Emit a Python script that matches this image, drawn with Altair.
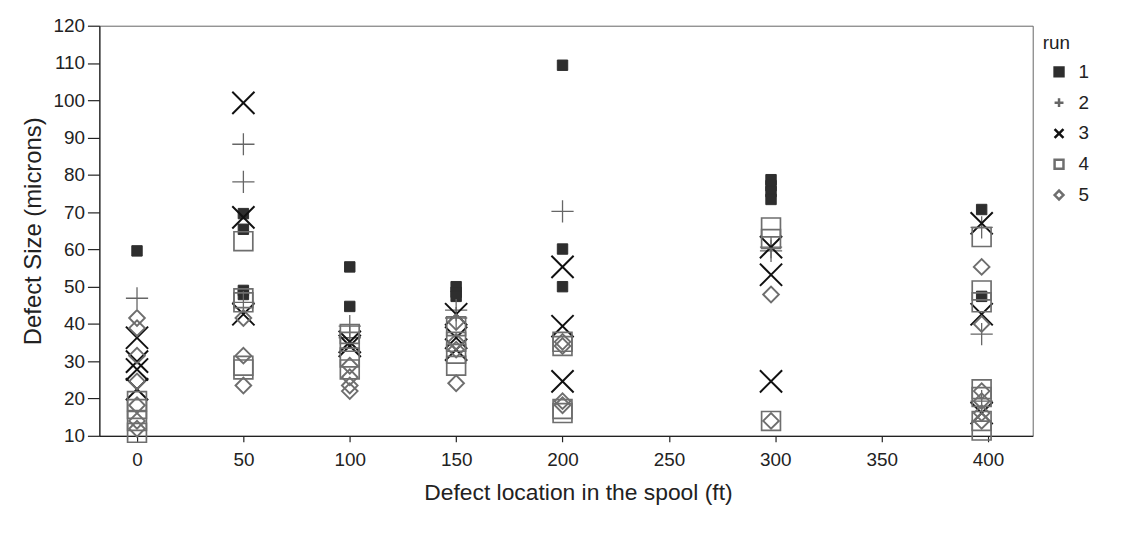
import altair as alt
import pandas as pd

# Run 1 (filled square)
run1_loc = [0, 50, 50, 50, 50, 100, 100, 150, 150, 150, 200, 200, 200, 298, 298, 298, 298, 397, 397]
run1_val = [59.6, 69.6, 65.4, 49.0, 47.9, 55.3, 44.7, 50.0, 48.5, 47.4, 109.4, 60.1, 50.0, 78.7, 77.1, 75.5, 73.4, 70.7, 47.4]
# Run 2 (plus)
run2_loc = [0, 50, 50, 50, 100, 100, 150, 150, 200, 298, 298, 397, 397, 397]
run2_val = [46.9, 88.2, 78.1, 45.8, 39.4, 36.3, 43.7, 41.6, 70.2, 60.6, 59.6, 65.9, 37.3, 19.3]
# Run 3 (x)
run3_loc = [0, 0, 0, 0, 50, 50, 50, 100, 100, 150, 150, 150, 200, 200, 200, 298, 298, 298, 397, 397, 397]
run3_val = [36.3, 29.9, 27.8, 22.5, 99.3, 68.6, 42.6, 35.2, 34.1, 42.6, 36.3, 33.1, 55.3, 39.4, 24.6, 60.6, 53.2, 24.6, 67.0, 42.6, 16.1]
# Run 4 (open square)
run4_loc = [0, 0, 0, 0, 50, 50, 50, 50, 50, 100, 100, 100, 100, 150, 150, 150, 150,
            200, 200, 200, 200, 298, 298, 298, 397, 397, 397, 397, 397, 397, 397]
run4_val = [19.3, 17.2, 14.0, 10.8, 62.2, 46.9, 45.8, 28.8, 27.8, 37.3, 35.2, 31.0, 27.8, 39.4, 35.2, 32.0, 28.8,
            35.2, 34.1, 17.2, 16.1, 65.9, 62.8, 14.0, 63.3, 49.0, 45.8, 22.5, 20.4, 14.0, 11.4]
# Run 5 (open diamond)
run5_loc = [0, 0, 0, 0, 0, 0, 0, 50, 50, 50, 100, 100, 100, 100, 150, 150, 150, 150,
            200, 200, 200, 200, 298, 298, 397, 397, 397, 397, 397, 397]
run5_val = [41.6, 38.9, 31.5, 24.6, 18.2, 14.0, 11.9, 41.6, 31.5, 23.5, 28.8, 25.7, 23.5, 22.0, 40.5, 35.2, 33.1, 24.1,
            35.2, 34.1, 19.3, 18.2, 47.9, 14.0, 55.3, 40.0, 22.0, 19.3, 16.1, 14.0]

runs = ["1", "2", "3", "4", "5"]
x_ticks = [0, 50, 100, 150, 200, 250, 300, 350, 400]
y_ticks = [10, 20, 30, 40, 50, 60, 70, 80, 90, 100, 110, 120]

locs = [run1_loc, run2_loc, run3_loc, run4_loc, run5_loc]
vals = [run1_val, run2_val, run3_val, run4_val, run5_val]
rows = []
for r, L, V in zip(runs, locs, vals):
    for a, b in zip(L, V):
        rows.append({"run": r, "loc": a, "size": b})
df = pd.DataFrame(rows)

PLUS = "M-1,0L1,0M0,-1L0,1"
XSHAPE = "M-1,-1L1,1M-1,1L1,-1"
font = "Liberation Sans"

shape_range = ["square", PLUS, XSHAPE, "square", "diamond"]
stroke_range = ["#2e2e2e", "#666666", "#111111", "#6e6e6e", "#6e6e6e"]
fill_range = ["#2e2e2e", "transparent", "transparent", "transparent", "transparent"]
mark_sizes = [110, 500, 500, 360, 250]
mark_widths = [1, 1.3, 2, 1.7, 1.9]

legend = alt.Legend(orient="none", legendX=950, legendY=8, symbolOffset=7,
                    labelOffset=10, rowPadding=11, titlePadding=10,
                    symbolSize=80, symbolStrokeWidth=2.5)

base = alt.Chart(df).encode(
    x=alt.X("loc:Q", title="Defect location in the spool (ft)",
            scale=alt.Scale(domain=[-17.7, 421], nice=False, zero=False),
            axis=alt.Axis(values=x_ticks, grid=False, tickSize=6, labelPadding=9,
                          titlePadding=12, titleFontSize=23, titleX=482)),
    y=alt.Y("size:Q", title="Defect Size (microns)",
            scale=alt.Scale(domain=[10, 120], nice=False, zero=False),
            axis=alt.Axis(values=y_ticks, grid=False, tickSize=12, labelPadding=3,
                          titlePadding=8, titleFontSize=24)),
    shape=alt.Shape("run:N", title="run", legend=legend,
                    scale=alt.Scale(domain=runs, range=shape_range)),
    stroke=alt.Stroke("run:N", title="run", legend=legend,
                      scale=alt.Scale(domain=runs, range=stroke_range)),
    fill=alt.Fill("run:N", title="run", legend=legend,
                  scale=alt.Scale(domain=runs, range=fill_range)),
)

layers = [
    base.transform_filter(alt.datum.run == r).mark_point(size=s, strokeWidth=w, opacity=1)
    for r, s, w in zip(runs, mark_sizes, mark_widths)
]

chart = alt.layer(*layers).properties(
    width=940, height=413,
    autosize=alt.AutoSizeParams(type="none"),
    padding={"left": 92, "top": 16, "right": 102, "bottom": 90},
).configure_view(
    stroke="#666666", strokeWidth=1
).configure_axis(
    labelFont=font, titleFont=font, labelFontSize=19, titleFontSize=21,
    labelColor="#222222", titleColor="#222222", titleFontWeight="normal",
    domainColor="#222222", tickColor="#222222", domainWidth=1.2, tickWidth=1.2
).configure_legend(
    labelFont=font, titleFont=font, labelFontSize=19, titleFontSize=19,
    labelColor="#222222", titleColor="#222222", titleFontWeight="normal"
)

chart.save("out.html", embed_options={"renderer": "svg", "actions": False})
